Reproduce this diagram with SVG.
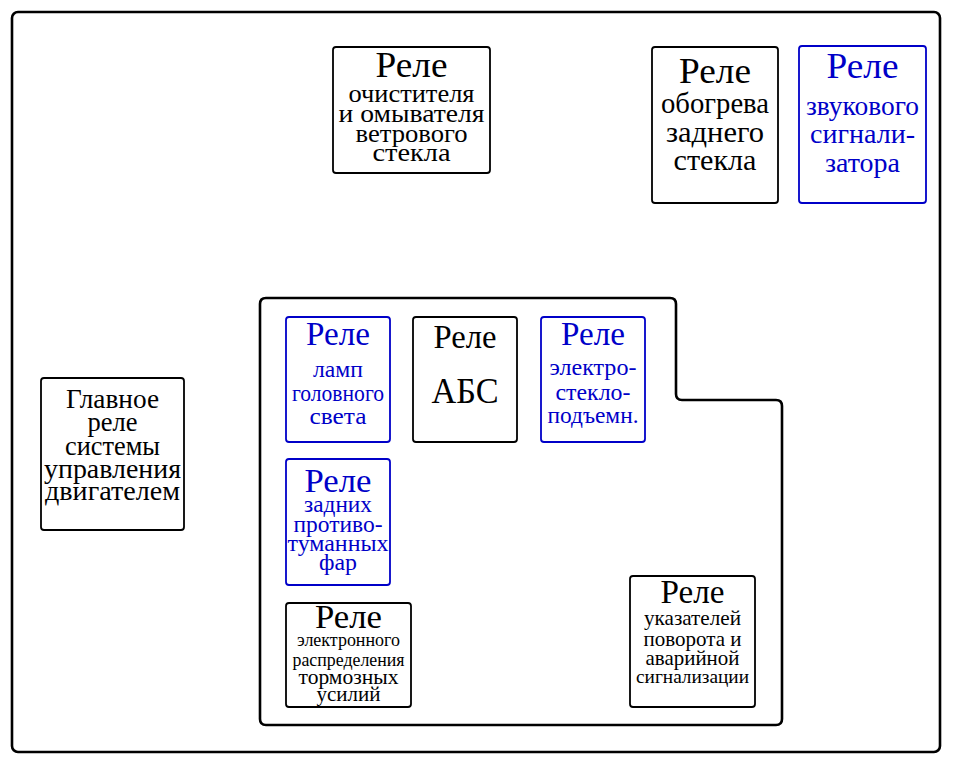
<svg xmlns="http://www.w3.org/2000/svg" width="960" height="770" viewBox="0 0 960 770">
<style>
text{font-family:"Liberation Serif","Times New Roman",serif;text-anchor:middle;}
.k{fill:#000}
.b{fill:#0000c8}
.bx{fill:#fff;stroke:#000;stroke-width:1.8}
.bb{fill:#fff;stroke:#0000c8;stroke-width:1.8}
.frame{fill:none;stroke:#000;stroke-width:2.6}
</style>
<rect width="960" height="770" fill="#fff"/>
<g id="housing">
<rect class="frame" x="12" y="12" width="928" height="740" rx="6"/>
<path class="frame" d="M266,298 H670 Q676,298 676,304 V394 Q676,400 682,400 H776 Q782,400 782,406 V719 Q782,725 776,725 H266 Q260,725 260,719 V304 Q260,298 266,298 Z"/>
</g>
<g id="connectors"></g>
<g id="relay-washer">
<rect class="bx" x="333" y="47" width="157" height="126" rx="3"/>
<text class="k" x="411.5" y="77" font-size="36" textLength="72" lengthAdjust="spacingAndGlyphs">Реле</text>
<text class="k" x="411.5" y="102" font-size="26" textLength="126" lengthAdjust="spacingAndGlyphs">очистителя</text>
<text class="k" x="411.5" y="122" font-size="26" textLength="146" lengthAdjust="spacingAndGlyphs">и омывателя</text>
<text class="k" x="411.5" y="142" font-size="26" textLength="112" lengthAdjust="spacingAndGlyphs">ветрового</text>
<text class="k" x="411.5" y="161" font-size="26" textLength="78" lengthAdjust="spacingAndGlyphs">стекла</text>
</g>
<g id="relay-rear-heat">
<rect class="bx" x="652" y="47" width="126" height="156" rx="3"/>
<text class="k" x="715" y="83" font-size="36" textLength="72" lengthAdjust="spacingAndGlyphs">Реле</text>
<text class="k" x="715" y="113" font-size="30" textLength="108" lengthAdjust="spacingAndGlyphs">обогрева</text>
<text class="k" x="715" y="142" font-size="30" textLength="98" lengthAdjust="spacingAndGlyphs">заднего</text>
<text class="k" x="715" y="170" font-size="30" textLength="83" lengthAdjust="spacingAndGlyphs">стекла</text>
</g>
<g id="relay-horn">
<rect class="bb" x="799" y="46" width="127" height="157" rx="3"/>
<text class="b" x="862.5" y="78" font-size="36" textLength="72" lengthAdjust="spacingAndGlyphs">Реле</text>
<text class="b" x="862.5" y="115" font-size="27" textLength="113" lengthAdjust="spacingAndGlyphs">звукового</text>
<text class="b" x="862.5" y="143" font-size="27" textLength="105" lengthAdjust="spacingAndGlyphs">сигнали-</text>
<text class="b" x="862.5" y="172" font-size="27" textLength="75" lengthAdjust="spacingAndGlyphs">затора</text>
</g>
<g id="relay-main-engine">
<rect class="bx" x="41" y="378" width="143" height="152" rx="3"/>
<text class="k" x="112.5" y="408" font-size="28" textLength="93" lengthAdjust="spacingAndGlyphs">Главное</text>
<text class="k" x="112.5" y="431" font-size="28" textLength="50" lengthAdjust="spacingAndGlyphs">реле</text>
<text class="k" x="112.5" y="455" font-size="28" textLength="95" lengthAdjust="spacingAndGlyphs">системы</text>
<text class="k" x="112.5" y="478" font-size="28" textLength="137" lengthAdjust="spacingAndGlyphs">управления</text>
<text class="k" x="112.5" y="500" font-size="28" textLength="135" lengthAdjust="spacingAndGlyphs">двигателем</text>
</g>
<g id="relay-headlamps">
<rect class="bb" x="286" y="317" width="104" height="125" rx="3"/>
<text class="b" x="338" y="345" font-size="33" textLength="64" lengthAdjust="spacingAndGlyphs">Реле</text>
<text class="b" x="338" y="377" font-size="24" textLength="50" lengthAdjust="spacingAndGlyphs">ламп</text>
<text class="b" x="338" y="401" font-size="24" textLength="92" lengthAdjust="spacingAndGlyphs">головного</text>
<text class="b" x="338" y="424" font-size="24" textLength="57" lengthAdjust="spacingAndGlyphs">света</text>
</g>
<g id="relay-abs">
<rect class="bx" x="413" y="317" width="104" height="125" rx="3"/>
<text class="k" x="465" y="348" font-size="33" textLength="63" lengthAdjust="spacingAndGlyphs">Реле</text>
<text class="k" x="465" y="403" font-size="35" textLength="67" lengthAdjust="spacingAndGlyphs">АБС</text>
</g>
<g id="relay-windows">
<rect class="bb" x="541" y="317" width="104" height="125" rx="3"/>
<text class="b" x="593" y="345" font-size="33" textLength="64" lengthAdjust="spacingAndGlyphs">Реле</text>
<text class="b" x="593" y="375" font-size="24" textLength="87" lengthAdjust="spacingAndGlyphs">электро-</text>
<text class="b" x="593" y="400" font-size="24" textLength="75" lengthAdjust="spacingAndGlyphs">стекло-</text>
<text class="b" x="593" y="423" font-size="24" textLength="91" lengthAdjust="spacingAndGlyphs">подъемн.</text>
</g>
<g id="relay-rear-fog">
<rect class="bb" x="286" y="459" width="104" height="126" rx="3"/>
<text class="b" x="338" y="492" font-size="34" textLength="67" lengthAdjust="spacingAndGlyphs">Реле</text>
<text class="b" x="338" y="512" font-size="23.5" textLength="68" lengthAdjust="spacingAndGlyphs">задних</text>
<text class="b" x="338" y="532" font-size="23.5" textLength="89" lengthAdjust="spacingAndGlyphs">противо-</text>
<text class="b" x="338" y="551" font-size="23.5" textLength="101" lengthAdjust="spacingAndGlyphs">туманных</text>
<text class="b" x="338" y="570" font-size="23.5" textLength="38" lengthAdjust="spacingAndGlyphs">фар</text>
</g>
<g id="relay-ebd">
<rect class="bx" x="286" y="603" width="125" height="104" rx="3"/>
<text class="k" x="348.5" y="628" font-size="34" textLength="67" lengthAdjust="spacingAndGlyphs">Реле</text>
<text class="k" x="348.5" y="646" font-size="17.8" textLength="103" lengthAdjust="spacingAndGlyphs">электронного</text>
<text class="k" x="348.5" y="666" font-size="17.8" textLength="112" lengthAdjust="spacingAndGlyphs">распределения</text>
<text class="k" x="348.5" y="684" font-size="21.3" textLength="100" lengthAdjust="spacingAndGlyphs">тормозных</text>
<text class="k" x="348.5" y="701" font-size="21.3" textLength="64" lengthAdjust="spacingAndGlyphs">усилий</text>
</g>
<g id="relay-turn-hazard">
<rect class="bx" x="630" y="576" width="125" height="131" rx="3"/>
<text class="k" x="692.5" y="603" font-size="33" textLength="64" lengthAdjust="spacingAndGlyphs">Реле</text>
<text class="k" x="692.5" y="625" font-size="21" textLength="97" lengthAdjust="spacingAndGlyphs">указателей</text>
<text class="k" x="692.5" y="646" font-size="21" textLength="98" lengthAdjust="spacingAndGlyphs">поворота и</text>
<text class="k" x="692.5" y="665" font-size="21" textLength="94" lengthAdjust="spacingAndGlyphs">аварийной</text>
<text class="k" x="692.5" y="683" font-size="19.4" textLength="113" lengthAdjust="spacingAndGlyphs">сигнализации</text>
</g>
</svg>
